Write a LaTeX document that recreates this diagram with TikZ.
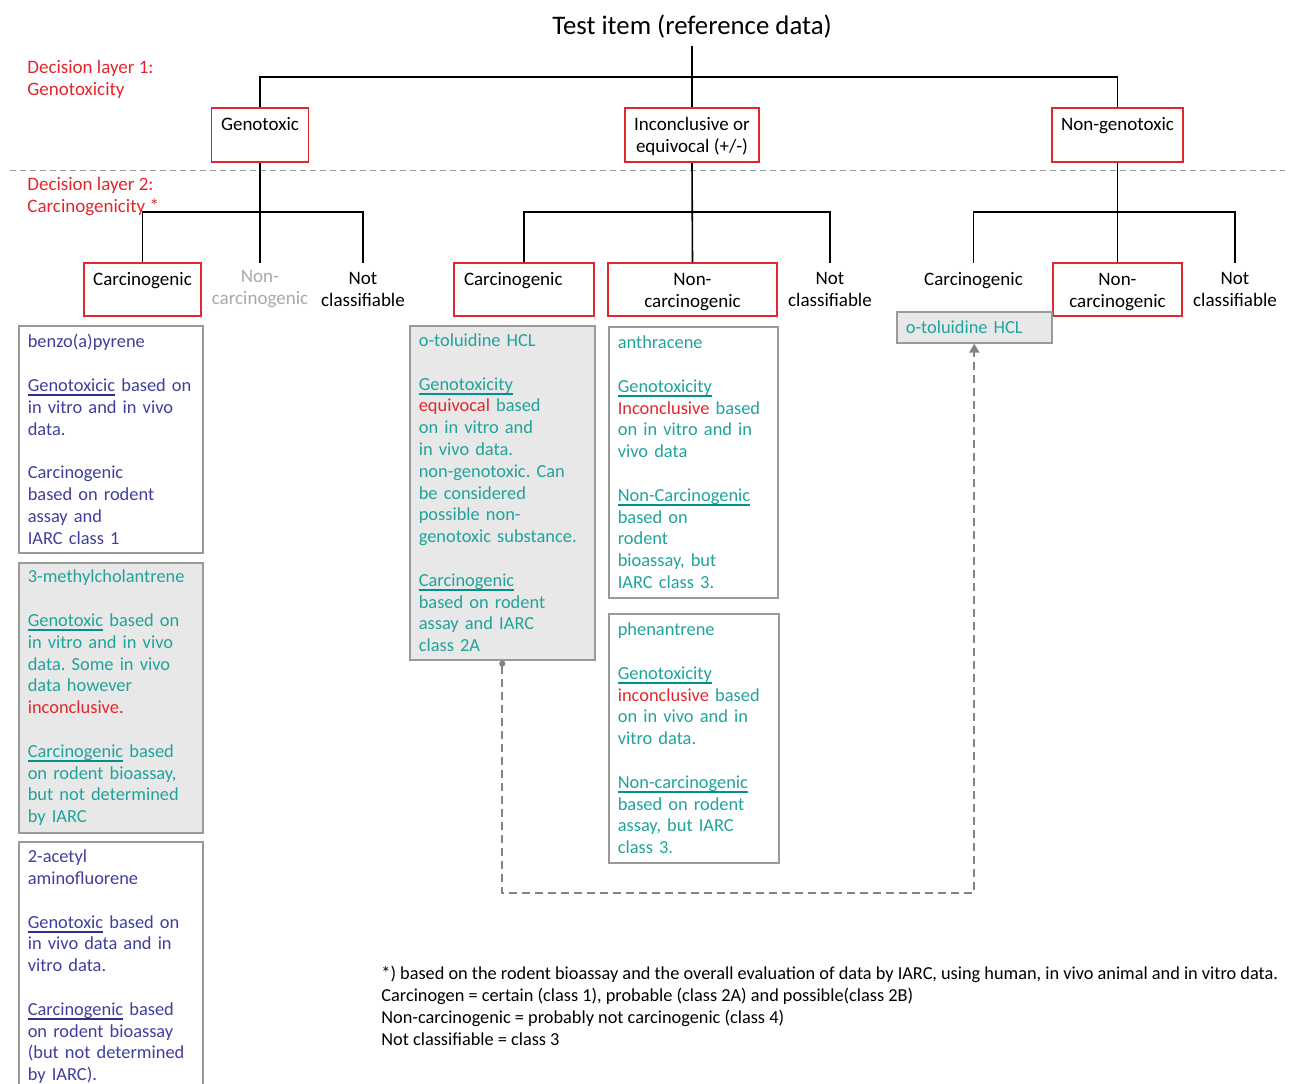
\documentclass[tikz,border=0pt]{standalone}
\usepackage{xcolor}
\usepackage{fontspec}
\setmainfont{Carlito}
\usepackage{tikz}
\usetikzlibrary{arrows.meta, positioning, calc}
\definecolor{kred}{HTML}{E2262E}
\definecolor{kteal}{HTML}{1FA39B}
\definecolor{ktealdk}{HTML}{00938C}
\definecolor{kblue}{HTML}{3E3E9E}
\definecolor{kbluedk}{HTML}{2E2E8E}
\definecolor{kgrey}{HTML}{9A9A9A}
\definecolor{kfill}{HTML}{E8E8E8}
\frenchspacing
\newcommand{\evfont}{\fontsize{9.2}{10.9}\selectfont}
\newcommand{\labfont}{\fontsize{9.5}{11}\selectfont}
\newcommand{\uword}[2]{\leavevmode\setbox0\hbox{#2}\rlap{\color{#1}\rule[-2.4pt]{\wd0}{0.9pt}}\box0\relax}

\begin{document}
\begin{tikzpicture}[x=0.5pt, y=-0.5pt,
  tree/.style={draw=black, line width=0.8pt},
  redbox/.style={draw=kred, line width=0.8pt, fill=white, inner sep=0pt, font=\labfont},
  plainlab/.style={inner sep=0pt, minimum height=26.5pt, align=center, font=\labfont},
  topline/.style={text height=11.2pt, text depth=15.3pt},
  evbox/.style={draw=kgrey, line width=0.8pt, anchor=north west, align=left,
    inner xsep=4.5pt, inner ysep=1pt, font=\evfont},
  link/.style={draw=kgrey!85!black, line width=0.9pt, dash pattern=on 4pt off 2.5pt,
    arrows={Circle[length=3pt]-Triangle[length=4.5pt, width=5pt]}}]
\useasboundingbox (0,0) rectangle (1291,1083);
\clip (0,0) rectangle (1291,1083);

% title and layer labels
\node[font=\fontsize{13.4}{16}\selectfont] (title) at (692,27) {Test item (reference data)};
\node[text=kred, font=\labfont, align=left, anchor=west, inner sep=0pt] (lay1) at (27,79)
  {Decision layer 1:\\Genotoxicity};
\node[text=kred, font=\labfont, align=left, anchor=west, inner sep=0pt] (lay2) at (27,197)
  {Decision layer 2:\\Carcinogenicity *};
\draw[kgrey, line width=0.5pt, dash pattern=on 3pt off 2pt] (10,170) -- (1285,170);

% decision layer 1
\node[redbox, topline, minimum width=48.5pt, minimum height=27pt] (gen) at (260,135) {Genotoxic};
\node[redbox, align=center, minimum width=67pt, minimum height=27pt] (inc) at (692,135)
  {\rule{0pt}{8.5pt}Inconclusive or\\equivocal (+/-)};
\node[redbox, topline, minimum width=65.5pt, minimum height=27pt] (ngen) at (1117.5,135) {Non-genotoxic};

% decision layer 2
\node[redbox, topline, minimum width=58.5pt, minimum height=26.5pt] (gcar) at (142.5,289.5) {Carcinogenic};
\node[plainlab, text=kgrey!85] (gnon) at (260,289.5) {Non-\\carcinogenic};
\node[plainlab] (gnot) at (363,289.5) {Not\\classifiable};

\node[redbox, topline, minimum width=70pt, minimum height=26.5pt] (mcar) at (524,289.5)
  {\makebox[60pt][l]{Carcinogenic}};
\node[redbox, align=center, minimum width=84.5pt, minimum height=26.5pt] (mnon) at (692.5,289.5)
  {\rule{0pt}{8.3pt}Non-\\carcinogenic};
\node[plainlab] (mnot) at (830,289.5) {Not\\classifiable};

\node[plainlab, topline] (rcar) at (973.5,289.5) {Carcinogenic};
\node[redbox, align=center, minimum width=64.5pt, minimum height=26.5pt] (rnon) at (1117.5,289.5)
  {\rule{0pt}{8.3pt}Non-\\carcinogenic};
\node[plainlab] (rnot) at (1235,289.5) {Not\\classifiable};

% tree
\coordinate (top) at (692,77);
\coordinate (jg) at (260,212);
\coordinate (jm) at (692,212);
\coordinate (jr) at (1117.5,212);
\draw[tree] (title) -- (inc);
\draw[tree] (gen.north) |- (top) -| (ngen.north);
\draw[tree] (gen.south) -- (gnon.north);
\draw[tree] (gcar.north) |- (jg) -| (gnot.north);
\draw[tree] (inc.south) -- (mnon.north);
\draw[tree] (mcar.north) |- (jm) -| (mnot.north);
\draw[tree] (ngen.south) -- (rnon.north);
\draw[tree] (rcar.north) |- (jr) -| (rnot.north);

% reference substances
\node[evbox, text=kblue, text width=83pt, minimum height=113.5pt] (benzo) at (18,325)
  {benzo(a)pyrene\\[10.9pt]
   \uword{kbluedk}{Genotoxicic} based on\\
   in vitro and in vivo\\
   data.\\[10.9pt]
   Carcinogenic\\
   based on rodent\\
   assay and\\
   IARC class 1};
\node[evbox, fill=kfill, text=kteal, text width=83pt, minimum height=135pt] (methyl) at (18,562)
  {3-methylcholantrene\\[10.9pt]
   \uword{ktealdk}{Genotoxic} based on\\
   in vitro and in vivo\\
   data. Some in vivo\\
   data however\\
   {\color{kred}inconclusive.}\\[10.9pt]
   \uword{ktealdk}{Carcinogenic} based\\
   on rodent bioassay,\\
   but not determined\\
   by IARC};
\node[evbox, text=kblue, text width=83pt, minimum height=125pt] (acetyl) at (18,841)
  {2-acetyl\\
   aminofluorene\\[10.9pt]
   \uword{kbluedk}{Genotoxic} based on\\
   in vivo data and in\\
   vitro data.\\[10.9pt]
   \uword{kbluedk}{Carcinogenic} based\\
   on rodent bioassay\\
   (but not determined\\
   by IARC).};
\node[evbox, fill=kfill, text=kteal, text width=83.5pt, minimum height=167pt] (otol) at (409,325)
  {o-toluidine HCL\\[10.9pt]
   \uword{ktealdk}{Genotoxicity}\\
   {\color{kred}equivocal} based\\
   on in vitro and\\
   in vivo data.\\
   non-genotoxic. Can\\
   be considered\\
   possible non-\\
   genotoxic substance.\\[10.9pt]
   \uword{ktealdk}{Carcinogenic}\\
   based on rodent\\
   assay and IARC\\
   class 2A};
\node[evbox, text=kteal, text width=75.5pt, minimum height=135.5pt] (anth) at (608,326)
  {anthracene\\[10.9pt]
   \uword{ktealdk}{Genotoxicity}\\
   {\color{kred}Inconclusive} based\\
   on in vitro and in\\
   vivo data\\[10.9pt]
   \uword{ktealdk}{Non-Carcinogenic}\\
   based on\\
   rodent\\
   bioassay, but\\
   IARC class 3.};
\node[evbox, text=kteal, text width=76pt, minimum height=124.5pt] (phen) at (608,613)
  {phenantrene\\[10.9pt]
   \uword{ktealdk}{Genotoxicity}\\
   {\color{kred}inconclusive} based\\
   on in vivo and in\\
   vitro data.\\[10.9pt]
   \uword{ktealdk}{Non-carcinogenic}\\
   based on rodent\\
   assay, but IARC\\
   class 3.};
\node[evbox, fill=kfill, text=kteal, text width=68.5pt, minimum height=15.5pt] (otolr) at (896,311)
  {o-toluidine HCL};

% re-classification of o-toluidine
\coordinate (loop) at (700,893);
\draw[link] (otol.south) |- (loop) -| (otolr.south);

% footnote
\node[anchor=north west, align=left, inner sep=0pt, font=\fontsize{9.15}{11}\selectfont] (foot) at (381,966)
  {*) based on the rodent bioassay and the overall evaluation of data by IARC, using human, in vivo animal and in vitro data.\\
   Carcinogen = certain (class 1), probable (class 2A) and possible(class 2B)\\
   Non-carcinogenic = probably not carcinogenic (class 4)\\
   Not classifiable = class 3};
\end{tikzpicture}
\end{document}
